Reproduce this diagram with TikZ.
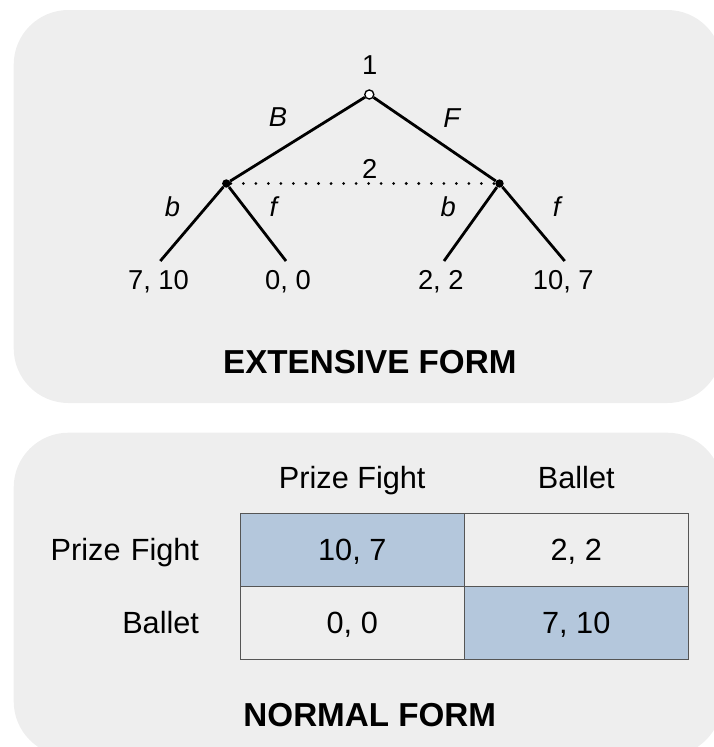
\documentclass[tikz,border=0pt]{standalone}
\usepackage{fontspec}
\setmainfont{Liberation Sans}
\usetikzlibrary{matrix}

\definecolor{panelgray}{HTML}{EEEEEE}
\definecolor{eqblue}{HTML}{B4C7DC}
\definecolor{gridgray}{HTML}{555555}

\tikzset{
  panel/.style={fill=panelgray, rounded corners=41pt},
  treelab/.style={inner sep=0pt, font=\fontsize{20.5pt}{24pt}\selectfont,
                  text height=14.7pt, text depth=0pt},
  movelab/.style={treelab, font=\fontsize{20.5pt}{24pt}\selectfont\itshape},
  formtitle/.style={inner sep=0pt, font=\fontsize{24.9pt}{30pt}\selectfont\bfseries},
  branch/.style={line width=2.1pt},
  rootnode/.style={circle, draw, fill=white, line width=1pt, inner sep=0pt, minimum size=6.8pt},
  decnode/.style={circle, fill=black, inner sep=0pt, minimum size=6.3pt},
}

\begin{document}
\begin{tikzpicture}[x=0.75pt, y=-0.75pt]
  \useasboundingbox (0,0) rectangle (714,747);
  \fill[panel] (13.7,10) rectangle (722,403);
  \fill[panel] (13.7,432.7) rectangle (722,756);

  % extensive form
  \node[rootnode] (root) at (369.3,94.5) {};
  \node[decnode] (lchild) at (226.3,183.5) {};
  \node[decnode] (rchild) at (499.5,183.5) {};
  \coordinate (ll) at (160.3,261);
  \coordinate (lr) at (286,261);
  \coordinate (rl) at (444,261);
  \coordinate (rr) at (564.7,261);
  \draw[branch] (root) -- (lchild);
  \draw[branch] (root) -- (rchild);
  \draw[branch] (lchild) -- (ll);
  \draw[branch] (lchild) -- (lr);
  \draw[branch] (rchild) -- (rl);
  \draw[branch] (rchild) -- (rr);
  \draw[line width=2.3pt, line cap=round, dash pattern=on 0pt off 9.4pt]
    (lchild) -- (rchild);

  \node[treelab] (p1) at (369.8,65) {1};
  \node[treelab] (p2) at (369.8,168.3) {2};
  \node[movelab] (mB) at (278,116.7) {B};
  \node[movelab] (mF) at (451.7,118) {F};
  \node[movelab] (mbl) at (172.5,206.7) {b};
  \node[movelab] (mfl) at (273.3,206.7) {f};
  \node[movelab] (mbr) at (448.3,206.7) {b};
  \node[movelab] (mfr) at (556.7,206.7) {f};
  \node[treelab] (ll-pay) at (158.5,280) {7, 10};
  \node[treelab] (lr-pay) at (288,280) {0, 0};
  \node[treelab] (rl-pay) at (440.8,280) {2, 2};
  \node[treelab] (rr-pay) at (563.3,280) {10, 7};
  \node[formtitle] (ext-title) at (369.8,361.7) {EXTENSIVE FORM};

  % normal form
  \matrix (nf) [matrix of nodes, ampersand replacement=\&, inner sep=0pt, outer sep=0pt,
          anchor=north west, column sep=-1.1pt, row sep=-1.1pt,
          nodes={minimum height=54.75pt, inner sep=0pt, outer sep=0pt,
                 font=\fontsize{23pt}{27pt}\selectfont,
                 text height=16.5pt, text depth=0pt},
          cell/.style={draw=gridgray, line width=1.1pt, minimum width=168pt},
          head/.style={minimum width=168pt},
          rowlab/.style={text width=120pt, align=right}]
          at (39,441) {
    {} \&[31.5pt] |[head]| Prize Fight \& |[head]| Ballet \\
    |[rowlab]| Prize Fight \& |[cell, fill=eqblue]| 10, 7 \& |[cell, fill=panelgray]| 2, 2 \\
    |[rowlab]| Ballet \& |[cell, fill=panelgray]| 0, 0 \& |[cell, fill=eqblue]| 7, 10 \\
  };
  \node[formtitle] (nf-title) at (369.8,715) {NORMAL FORM};
\end{tikzpicture}
\end{document}
